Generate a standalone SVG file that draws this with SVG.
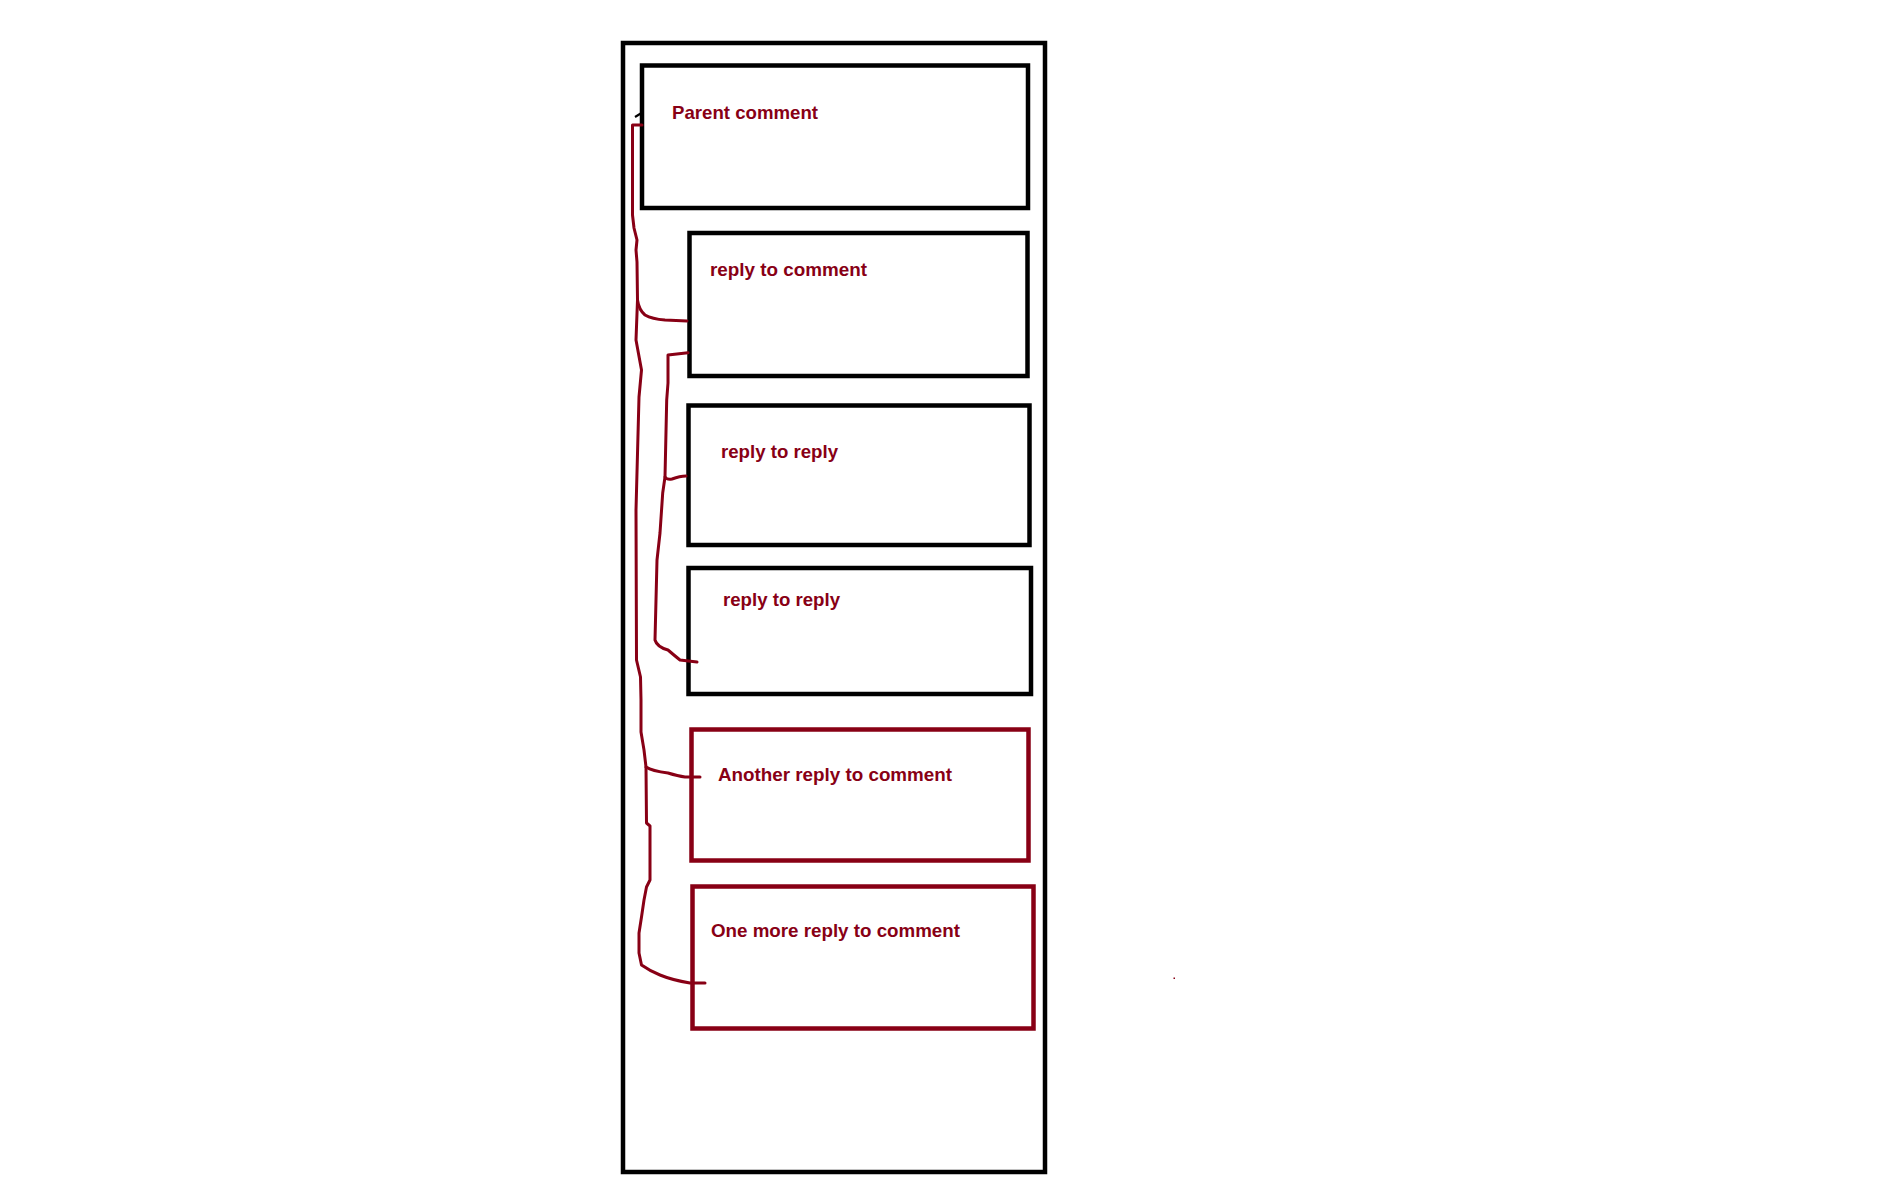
<svg xmlns="http://www.w3.org/2000/svg" width="1900" height="1200" viewBox="0 0 1900 1200">
<style>
.box{fill:none;stroke:#000;stroke-width:4.5}
.rbox{fill:none;stroke:#880015;stroke-width:4.5}
.lbl{font-family:"Liberation Sans",Arial,sans-serif;font-weight:bold;font-size:18.5px;fill:#880015}
.wire{fill:none;stroke:#880015;stroke-width:3;stroke-linecap:round;stroke-linejoin:round}
</style>
<rect width="1900" height="1200" fill="#fff"/>
<g id="container"><rect class="box" x="623" y="43" width="422" height="1129"/></g>
<g id="parent"><rect class="box" x="642" y="65.5" width="386" height="142.5"/><text class="lbl" x="672" y="119" textLength="146" lengthAdjust="spacingAndGlyphs">Parent comment</text></g>
<g id="reply1"><rect class="box" x="689.5" y="233" width="338" height="143"/><text class="lbl" x="710" y="276" textLength="157" lengthAdjust="spacingAndGlyphs">reply to comment</text></g>
<g id="reply2"><rect class="box" x="688.5" y="405.5" width="341" height="139.5"/><text class="lbl" x="721" y="458" textLength="117" lengthAdjust="spacingAndGlyphs">reply to reply</text></g>
<g id="reply3"><rect class="box" x="688.5" y="568" width="342.5" height="126"/><text class="lbl" x="723" y="606" textLength="117" lengthAdjust="spacingAndGlyphs">reply to reply</text></g>
<g id="reply4"><rect class="rbox" x="691.5" y="729.5" width="337" height="131"/><text class="lbl" x="718" y="781" textLength="234" lengthAdjust="spacingAndGlyphs">Another reply to comment</text></g>
<g id="reply5"><rect class="rbox" x="692.5" y="886.5" width="341" height="142"/><text class="lbl" x="711" y="937" textLength="249" lengthAdjust="spacingAndGlyphs">One more reply to comment</text></g>
<g id="connectors">
<path d="M635 117 L641.5 113" fill="none" stroke="#000" stroke-width="2.2"/>
<path class="wire" d="M642 125 L632.5 125 L632.5 150 L632.5 215 L634 228 L637 240 L636 250 L637 262 L637.5 300 L636 340 L641.5 370 L639 397 L636 510 L636.5 660 L640.5 677 L641 700 L641 732 L644 750 L646 767 L646.5 823 L650 826 L650 880 L646.5 887 L644 900 L641.5 917 L639 933 L639 953 L641.5 965 Q650 971 660 975 Q672 980 690 983 L705 983"/>
<path class="wire" d="M637.5 300 Q639 310 645 315 Q652 319 665 320 L687 321"/>
<path class="wire" d="M646 767 Q652 771 668 773 Q678 776 685 777 L700 777"/>
<path class="wire" d="M688 352.7 L668 355 L668 383 L666.7 400 L665 477 L662.7 493 L660 533 L657 560 L655 640 Q657 647 668 650 Q675 656 680 660 L697 662"/>
<path class="wire" d="M665 477 Q667 480 672 479 Q680 476 686 476"/>
<rect x="1173.5" y="977.5" width="1.5" height="1.5" fill="#880015"/>
</g>
</svg>
